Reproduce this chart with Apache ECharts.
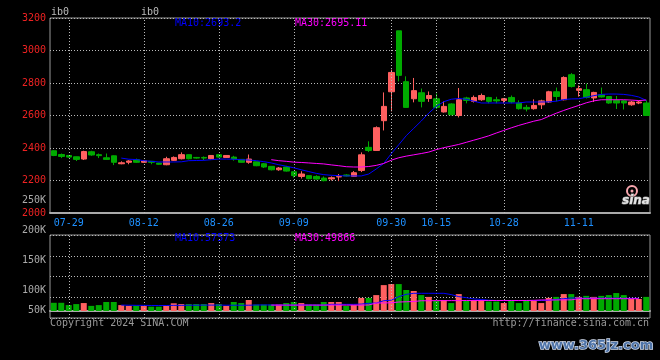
<!DOCTYPE html>
<html><head><meta charset="utf-8">
<script src="https://cdn.jsdelivr.net/npm/echarts@6/dist/echarts.min.js"></script>
<style>html,body{margin:0;padding:0;background:#000;}#c{width:660px;height:360px;}</style>
</head><body><div id="c"></div><script>
// ---- data ----
const dates = ['07-25','07-26','07-29','07-30','07-31','08-01','08-02','08-05','08-06','08-07','08-08','08-09',
'08-12','08-13','08-14','08-15','08-16','08-19','08-20','08-21','08-22','08-23','08-26','08-27','08-28','08-29','08-30',
'09-02','09-03','09-04','09-05','09-06','09-09','09-10','09-11','09-12','09-13','09-18','09-19','09-20',
'09-23','09-24','09-25','09-26','09-27','09-30','10-08','10-09','10-10','10-11','10-14','10-15','10-16','10-17','10-18',
'10-21','10-22','10-23','10-24','10-25','10-28','10-29','10-30','10-31','11-01','11-04','11-05','11-06','11-07','11-08',
'11-11','11-12','11-13','11-14','11-15','11-18','11-19','11-20','11-21','11-22'];
// [open, close, low, high]
const ohlc = [
[2383,2354,2350,2386],[2360,2348,2338,2366],[2354,2344,2340,2357],[2346,2330,2320,2347],[2332,2378,2326,2383],
[2377,2357,2352,2383],[2359,2353,2338,2366],[2340,2330,2328,2366],[2352,2312,2295,2354],[2303,2309,2300,2318],
[2312,2320,2300,2325],[2328,2312,2308,2335],[2312,2321,2309,2324],[2318,2312,2300,2320],[2307,2300,2297,2309],
[2297,2334,2294,2346],[2324,2342,2320,2348],[2334,2359,2330,2373],[2359,2334,2330,2360],[2342,2338,2335,2345],
[2342,2338,2325,2348],[2334,2354,2330,2356],[2359,2344,2340,2360],[2342,2354,2340,2356],[2344,2332,2322,2352],
[2330,2312,2310,2332],[2312,2332,2303,2360],[2315,2291,2288,2316],[2303,2283,2277,2308],[2287,2266,2262,2288],
[2266,2277,2260,2283],[2283,2258,2255,2290],[2254,2230,2217,2255],[2225,2240,2212,2257],[2230,2211,2208,2232],
[2225,2209,2205,2232],[2215,2199,2195,2225],[2210,2217,2200,2225],[2222,2224,2196,2240],[2234,2228,2225,2238],
[2225,2248,2222,2258],[2262,2358,2252,2373],[2404,2385,2375,2441],[2385,2525,2383,2533],[2568,2656,2508,2742],
[2746,2865,2625,2882],[3121,2847,2810,3121],[2808,2650,2650,2841],[2703,2753,2681,2831],[2740,2687,2650,2766],
[2705,2723,2684,2748],[2703,2650,2640,2735],[2622,2656,2618,2687],[2671,2605,2600,2675],[2600,2697,2588,2769],
[2708,2693,2675,2715],[2687,2711,2680,2723],[2697,2723,2690,2735],[2711,2687,2675,2715],[2697,2690,2675,2715],
[2693,2703,2675,2708],[2711,2683,2675,2723],[2677,2642,2636,2693],[2650,2640,2625,2665],[2642,2662,2636,2699],
[2666,2690,2640,2697],[2683,2746,2677,2752],[2746,2717,2687,2772],[2697,2834,2693,2841],[2851,2779,2772,2861],
[2755,2765,2716,2785],[2759,2711,2705,2796],[2708,2742,2683,2746],[2728,2714,2710,2772],[2717,2677,2672,2720],
[2693,2677,2640,2720],[2690,2677,2637,2695],[2666,2683,2660,2690],[2677,2683,2670,2690],[2677,2600,2598,2693]];
const ma10 = ['-','-','-','-','-','-','-','-','-',
2338,2331,2329,2322,2318,2314,2314,2314,2315,2322,2323,2324,2328,2332,2332,2331,2328,2326,2322,2316,
2308,2297,2288,2278,2266,2255,2244,2236,2232,2230,2228,2228,2228,2240,2271,2305,2365,2420,2476,2521,
2566,2615,2656,2685,2700,2705,2700,2688,2677,2677,2677,2677,2677,2677,2683,2683,2683,2684,2688,2698,
2702,2703,2712,2722,2730,2732,2732,2730,2724,2714,2693];
const ma30 = ['-','-','-','-','-','-','-','-','-','-','-','-','-','-','-','-','-','-','-','-','-','-','-','-','-','-','-','-','-',
2328,2322,2318,2313,2311,2308,2305,2302,2296,2291,2285,2283,2283,2286,2293,2305,2325,2340,2350,2358,
2366,2375,2390,2402,2412,2422,2435,2448,2461,2475,2492,2508,2524,2539,2552,2565,2575,2595,2614,2631,
2647,2662,2678,2690,2697,2697,2697,2697,2695,2692,2695];
const volume = [32000,32000,23000,27000,31000,20000,23000,35000,35000,23000,20000,21000,20000,17000,17000,
20000,30000,27000,27000,27000,27000,31000,27000,20000,35000,31000,43000,25000,25000,25000,25000,31000,35000,
31000,25000,25000,35000,35000,35000,20000,23000,51000,51000,62000,101000,105000,105000,82000,78000,62000,
55000,39000,43000,31000,66000,39000,43000,43000,37000,37000,31000,43000,31000,43000,43000,31000,51000,
55000,66000,66000,55000,59000,55000,59000,62000,70000,62000,47000,47000,55000];
const volMa10 = ['-','-','-','-','-','-','-','-','-',
23000,22500,22000,22000,21500,21500,21500,22000,22000,22500,22500,23000,23000,23000,22500,22500,22500,22500,
23500,23500,23500,23000,23000,23000,23500,23500,23000,23000,26000,26000,26000,26000,27000,30000,31000,
40000,42000,56000,65000,69000,69000,69000,69000,69000,64000,56000,52000,47000,45000,42000,41000,41000,
41000,41000,41000,41000,41000,42000,45000,48000,51000,50000,50000,50000,50000,50000,50000,49500,49500,49500];
const volMa30 = ['-','-','-','-','-','-','-','-','-','-','-','-','-','-','-','-','-','-','-','-','-','-','-','-','-','-','-','-','-',
23000,23000,23000,23000,23000,23000,23000,23000,23000,23000,23000,23000,23000,23500,31000,31500,32000,
35000,36000,37000,40000,40000,40500,40500,40500,40500,41000,41000,41000,41000,41000,41000,41000,41000,41000,
41500,43000,43000,43000,43500,43500,48000,48000,48000,48000,48000,48000,48000,48000,48000];
const priceTicks = { min: 2000, max: 3200, interval: 200 };
const dateTicks = ['07-29','08-12','08-26','09-09','09-30','10-15','10-28','11-11'];
const volTickLabels = ['250K','200K','150K','100K','50K'];
const priceLegend = ['MA10:2693.2','MA30:2695.11'];
const volLegend = ['MA10:57573','MA30:49866'];
const footer = ['Copyright 2024 SINA.COM','http://finance.sina.com.cn'];

// ---- styles ----
const RED = '#ff6060', GREEN = '#00aa00';
const MONO = '"DejaVu Sans Mono", "Liberation Mono", monospace';
const FONT = '10px ' + MONO;
const dotted = { color: '#bbbbbb', type: [1, 2], width: 1 };
const vLines = { silent: true, symbol: ['none','none'], label: { show: false },
  lineStyle: dotted, emphasis: { disabled: true }, data: dateTicks.map(d => ({ xAxis: d })) };

function txt(x, y, text, fill, align, extra) {
  return Object.assign({ type: 'text', x: x, y: y, silent: true, z: 100,
    style: { text: text, fill: fill, font: FONT, align: align || 'left', verticalAlign: 'middle',
      textAlign: align || 'left', textVerticalAlign: 'middle' } }, extra || {});
}

const chart = echarts.init(document.getElementById('c'), null, { renderer: 'canvas' });
const volYs = [200, 230.5, 260.7, 290.7, 310];
chart.setOption({
  backgroundColor: '#000',
  animation: false,
  grid: [
    { left: 50, top: 18, width: 600, height: 195, show: true, borderColor: '#999', borderWidth: 1 },
    { left: 50, top: 235, width: 600, height: 83, show: true, borderColor: '#999', borderWidth: 1 }
  ],
  xAxis: [
    { type: 'category', gridIndex: 0, data: dates, boundaryGap: true,
      axisLine: { show: true, lineStyle: { color: '#aaa', width: 2 } }, axisTick: { show: false },
      splitLine: { show: false },
      axisLabel: { color: '#1e90ff', fontFamily: MONO, fontSize: 10, margin: 5,
        interval: (i, v) => dateTicks.indexOf(v) >= 0 } },
    { type: 'category', gridIndex: 1, data: dates, boundaryGap: true,
      axisLine: { show: true, lineStyle: { color: '#aaa', width: 2 } }, axisTick: { show: false },
      axisLabel: { show: false }, splitLine: { show: false } }
  ],
  yAxis: [
    { type: 'value', gridIndex: 0, min: priceTicks.min, max: priceTicks.max, interval: priceTicks.interval,
      axisLine: { show: false }, axisTick: { show: false },
      axisLabel: { color: '#ee2222', fontFamily: MONO, fontSize: 10, margin: 4, formatter: v => String(v) },
      splitLine: { show: true, lineStyle: dotted } },
    { type: 'value', gridIndex: 1, min: -27300, max: 296400,
      axisLine: { show: false }, axisTick: { show: false }, axisLabel: { show: false }, splitLine: { show: false } },
    { type: 'value', gridIndex: 1, min: 0, max: 4, interval: 1, position: 'left',
      axisLine: { show: false }, axisTick: { show: false }, axisLabel: { show: false },
      splitLine: { show: true, lineStyle: dotted } }
  ],
  series: [
    { type: 'candlestick', xAxisIndex: 0, yAxisIndex: 0, data: ohlc, barWidth: 6,
      itemStyle: { color: RED, color0: GREEN, borderColor: RED, borderColor0: GREEN, borderWidth: 1 },
      markLine: vLines, z: 2 },
    { type: 'line', xAxisIndex: 0, yAxisIndex: 0, data: ma10, showSymbol: false, symbol: 'none',
      lineStyle: { color: '#0000ff', width: 1 }, z: 5, silent: true },
    { type: 'line', xAxisIndex: 0, yAxisIndex: 0, data: ma30, showSymbol: false, symbol: 'none',
      lineStyle: { color: '#ff00ff', width: 1 }, z: 5, silent: true },
    { type: 'bar', xAxisIndex: 1, yAxisIndex: 1, data: volume, barWidth: 6,
      itemStyle: { color: p => (ohlc[p.dataIndex][1] >= ohlc[p.dataIndex][0] ? RED : GREEN) },
      markLine: vLines, z: 2 },
    { type: 'line', xAxisIndex: 1, yAxisIndex: 1, data: volMa10, showSymbol: false, symbol: 'none',
      lineStyle: { color: '#0000ff', width: 1 }, z: 5, silent: true },
    { type: 'line', xAxisIndex: 1, yAxisIndex: 1, data: volMa30, showSymbol: false, symbol: 'none',
      lineStyle: { color: '#ff00ff', width: 1 }, z: 5, silent: true }
  ],
  graphic: [
    txt(51, 12, 'ib0', '#bbbbbb', 'left'),
    txt(141, 12, 'ib0', '#bbbbbb', 'left'),
    txt(175, 23, priceLegend[0], '#0000ff'),
    txt(295, 23, priceLegend[1], '#ff00ff'),
    txt(175, 238.5, volLegend[0], '#0000ff'),
    txt(295, 238.5, volLegend[1], '#ff00ff'),
    ...volTickLabels.map((t, k) => txt(46, volYs[k], t, '#aaaaaa', 'right')),
    txt(50, 323.5, footer[0], '#999999'),
    txt(649, 323.5, footer[1], '#999999', 'right'),
    { type: 'circle', shape: { cx: 632, cy: 191, r: 5 }, silent: true, z: 100,
      style: { fill: 'none', stroke: '#f7a6ae', lineWidth: 2 } },
    { type: 'circle', shape: { cx: 632, cy: 191, r: 1.5 }, silent: true, z: 100,
      style: { fill: '#f7a6ae' } },
    { type: 'text', x: 636, y: 201, silent: true, z: 100,
      style: { text: 'sina', fill: '#e6e6e6', stroke: '#888', lineWidth: 1,
        font: 'italic bold 12px "DejaVu Sans"', align: 'center', verticalAlign: 'middle',
        textAlign: 'center', textVerticalAlign: 'middle' } },
    { type: 'text', x: 596, y: 346, silent: true, z: 100,
      style: { text: 'www.365jz.com', fill: '#4f74a8', stroke: '#d2dced', lineWidth: 1.5,
        font: 'bold 13px "DejaVu Sans"', align: 'center', verticalAlign: 'middle',
        textAlign: 'center', textVerticalAlign: 'middle' } }
  ]
});
</script></body></html>
